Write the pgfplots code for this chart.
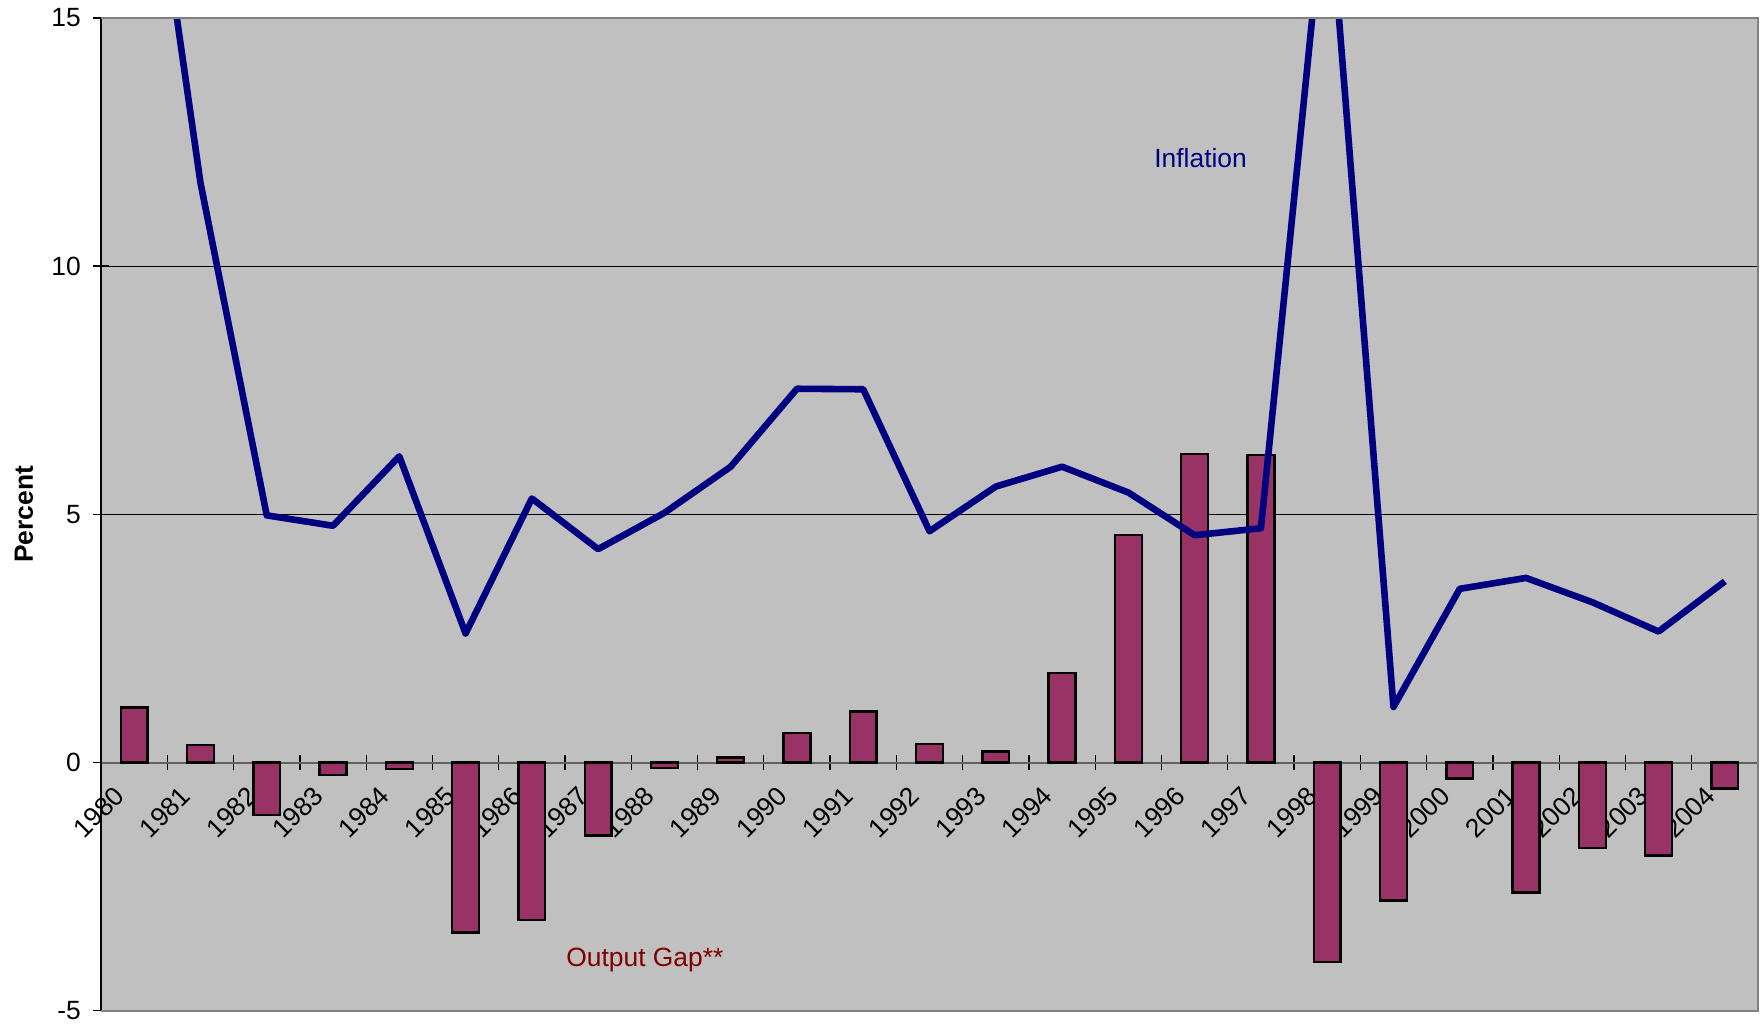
\documentclass[border=0pt]{standalone}
\usepackage{fontspec}
\setmainfont{Liberation Sans}
\usepackage{pgfplots}
\usepackage{pgfplotstable}
\pgfplotsset{compat=1.18}
\definecolor{bg}{HTML}{C0C0C0}
\definecolor{barc}{HTML}{993366}
\definecolor{navyc}{HTML}{000080}
\definecolor{darkredc}{HTML}{800000}
\definecolor{bordc}{HTML}{808080}

\pgfplotstableread{
x infl gap
0 21.0 1.11
1 11.68 0.36
2 4.98 -1.06
3 4.77 -0.25
4 6.17 -0.13
5 2.60 -3.42
6 5.32 -3.17
7 4.30 -1.47
8 5.03 -0.11
9 5.96 0.10
10 7.53 0.60
11 7.52 1.03
12 4.66 0.37
13 5.56 0.22
14 5.96 1.80
15 5.44 4.59
16 4.58 6.21
17 4.72 6.19
18 18.0 -4.02
19 1.12 -2.78
20 3.50 -0.32
21 3.72 -2.62
22 3.23 -1.72
23 2.64 -1.87
24 3.65 -0.52
}\data

\begin{document}
\begin{tikzpicture}
\begin{axis}[
  scale only axis, width=628pt, height=376.3pt,
  xmin=-0.5, xmax=24.5, ymin=-5, ymax=15,
  axis background/.style={fill=bg},
  axis x line=middle, axis y line=left,
  axis line style={-},
  x axis line style={draw=black!62, line width=0.8pt},
  y axis line style={draw=black, line width=0.6pt},
  hide obscured x ticks=false, hide obscured y ticks=false,
  xtick={0.5,1.5,...,23.5}, xticklabels={},
  extra x ticks={0,1,...,24},
  extra x tick labels={1980,1981,1982,1983,1984,1985,1986,1987,1988,1989,1990,1991,1992,1993,1994,1995,1996,1997,1998,1999,2000,2001,2002,2003,2004},
  extra x tick style={major tick length=0pt, tick label style={rotate=45, anchor=north east, inner sep=0pt, xshift=-11.4pt, yshift=0pt}},
  ytick={-5,0,5,10,15}, yticklabels={-5,0,5,10,15},
  yticklabel style={anchor=east, inner sep=0pt, xshift=-4.5pt},
  tick align=center, major tick length=6pt,
  tick style={black, line width=0.5pt},
  ymajorgrids, grid style={black, line width=0.4pt},
  font=\fontsize{10}{12}\selectfont,
  tick label style={font=\fontsize{10}{12}\selectfont},
]
\addplot[ybar, bar width=0.405, fill=barc, draw=black, line width=0.9pt, bar shift=0pt] table[x=x, y=gap] {\data};
\addplot[navyc, line width=2.5pt, line join=round, mark=none] table[x=x, y=infl] {\data};
\node[text=navyc, font=\fontsize{10}{12}\selectfont] at (axis cs:16.09,12.18) {Inflation};
\node[text=darkredc, font=\fontsize{10}{12}\selectfont] at (axis cs:7.705,-3.98) {Output Gap**};
\end{axis}
\draw[bordc, line width=0.8pt] (current axis.north west) -- (current axis.north east) -- (current axis.south east) -- (current axis.south west);
\node[rotate=90, font=\fontsize{10}{12}\selectfont\bfseries] at ([xshift=-29.2pt]current axis.west) {Percent};
\pgfresetboundingbox
\path ([xshift=-38.3pt,yshift=-5.7pt]current axis.south west) rectangle ([xshift=0.76pt,yshift=6.8pt]current axis.north east);
\end{tikzpicture}
\end{document}
